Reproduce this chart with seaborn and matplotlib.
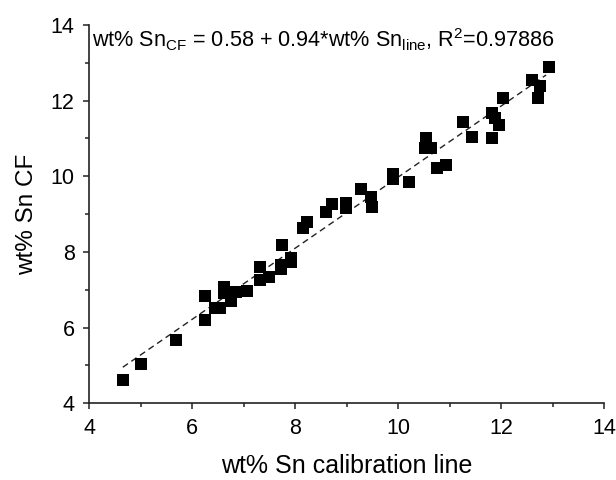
import matplotlib
matplotlib.use("Agg")
import matplotlib.pyplot as plt
import numpy as np
import pandas as pd
import seaborn as sns

# calibration line values (x) and CF values (y)
sn_line = [4.65, 5.00, 5.69, 6.25, 6.25, 6.44, 6.54, 6.61, 6.61, 6.76,
           6.85, 7.07, 7.31, 7.31, 7.49, 7.74, 7.72, 7.73, 7.92, 7.92,
           8.14, 8.22, 8.60, 8.72, 8.99, 8.99, 9.27, 9.47, 9.49, 9.90,
           9.89, 10.20, 10.54, 10.52, 10.63, 10.75, 10.92, 11.25, 11.43, 11.82,
           11.88, 11.96, 11.82, 12.04, 12.59, 12.76, 12.71, 12.92]
sn_cf = [4.61, 5.03, 5.67, 6.21, 6.84, 6.51, 6.51, 7.08, 6.92, 6.71,
         6.93, 6.96, 7.59, 7.25, 7.34, 8.18, 7.65, 7.55, 7.85, 7.74,
         8.62, 8.80, 9.05, 9.26, 9.28, 9.15, 9.66, 9.44, 9.19, 10.06,
         9.94, 9.84, 11.00, 10.76, 10.76, 10.21, 10.31, 11.44, 11.05, 11.66,
         11.53, 11.35, 11.00, 12.08, 12.54, 12.39, 12.06, 12.90]

fit_intercept = 0.58
fit_slope = 0.94
fit_r2 = 0.97886

sns.set_theme(style="ticks")
plt.rcParams['font.family'] = ['Liberation Sans', 'DejaVu Sans']
plt.rcParams['mathtext.fontset'] = 'custom'
plt.rcParams['mathtext.rm'] = 'Liberation Sans'
plt.rcParams['mathtext.it'] = 'Liberation Sans'
plt.rcParams['text.color'] = 'black'
plt.rcParams['axes.labelcolor'] = 'black'
plt.rcParams['xtick.labelcolor'] = 'black'
plt.rcParams['ytick.labelcolor'] = 'black'

df = pd.DataFrame({'x': sn_line, 'y': sn_cf})

fig = plt.figure(figsize=(6.16, 4.8), dpi=100)
ax = fig.add_axes([0.145, 0.160, 0.836, 0.788])

sns.scatterplot(data=df, x='x', y='y', marker='s', s=64, color='black',
                edgecolor='black', linewidth=0, ax=ax, zorder=3)

# fitted line over data range
xs = np.array([min(sn_line), max(sn_line) - 0.05])
ax.plot(xs, fit_intercept + fit_slope * xs, color='#222222', lw=1.0,
        dashes=(4.5, 3), zorder=2)

ax.set_xlim(4, 14)
ax.set_ylim(4, 14)
ax.set_xticks([4, 6, 8, 10, 12, 14])
ax.set_yticks([4, 6, 8, 10, 12, 14])
ax.set_xticks(np.arange(5, 14, 2), minor=True)
ax.set_yticks(np.arange(5, 14, 2), minor=True)
ax.tick_params(which='major', length=4.5, width=1.1, labelsize=15.5,
               color='#222222', labelcolor='black', pad=6)
ax.tick_params(which='minor', length=3, width=1.1, color='#222222')
for side in ['left', 'bottom']:
    ax.spines[side].set_linewidth(1.2)
    ax.spines[side].set_color('#222222')
sns.despine(ax=ax)

ax.set_xlabel('wt% Sn calibration line', fontsize=18, labelpad=11, color='black')
ax.set_ylabel('wt% Sn CF', fontsize=17.5, labelpad=9, color='black')

label = ('wt% Sn$_{\\mathrm{CF}}$ = ' + f'{fit_intercept:.2f} + {fit_slope:.2f}'
         + '*wt% Sn$_{\\mathrm{line}}$, R$^{2}$=' + f'{fit_r2:.5f}')
ax.text(4.05, 13.6, label, fontsize=15.6, va='center', ha='left', color='black')

fig.savefig('out.png', dpi=100)
